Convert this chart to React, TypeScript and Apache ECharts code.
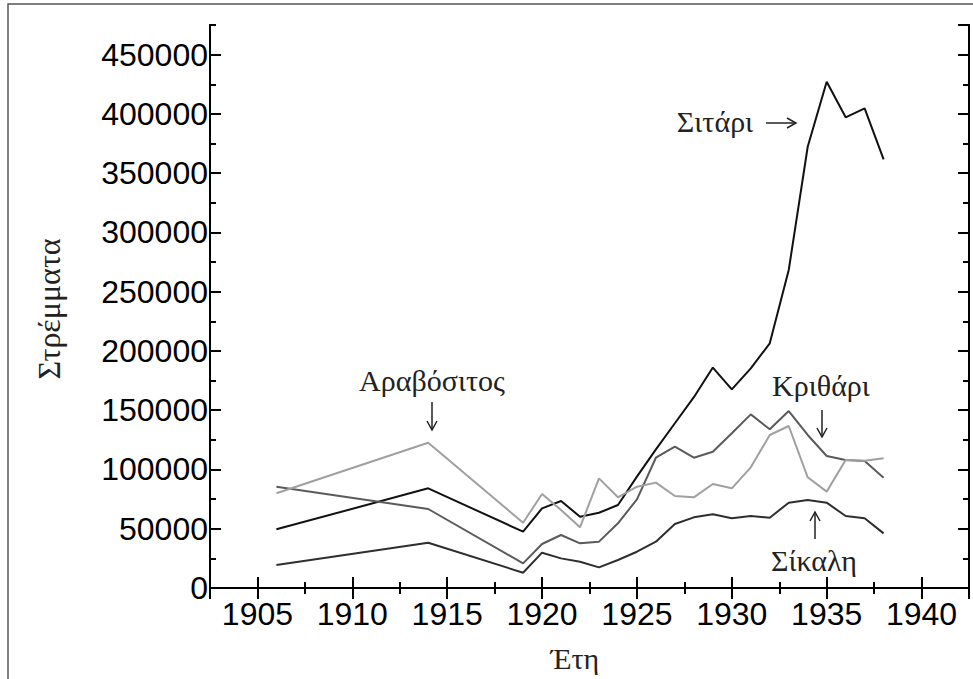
import React, { useEffect, useRef } from "react";
import * as echarts from "echarts";

const years = [1906, 1914, 1919, 1920, 1921, 1922, 1923, 1924, 1925, 1926, 1927, 1928, 1929, 1930, 1931, 1932, 1933, 1934, 1935, 1936, 1937, 1938];
const wheat = [49500, 84100, 47500, 67200, 73400, 60200, 63500, 70000, 94000, 117000, 139000, 161000, 186000, 167600, 185300, 206400, 268300, 372300, 427200, 397100, 404700, 361700];
const barley = [85500, 66650, 20800, 37100, 44700, 37700, 39100, 54600, 74800, 109900, 119200, 109900, 115000, 130500, 146500, 133900, 149300, 129100, 111400, 108000, 107100, 93100];
const maize = [79900, 122600, 55100, 79300, 65800, 51200, 92500, 76500, 85500, 88900, 77600, 76500, 87700, 84100, 101800, 129100, 136700, 93400, 81300, 108000, 107400, 109400];
const rye = [19400, 38200, 12900, 29800, 25000, 22200, 17400, 23600, 30600, 39100, 54000, 59600, 62200, 58800, 60700, 59300, 72000, 74200, 72000, 60700, 58800, 46100];

const seriesNames = ["Σιτάρι", "Κριθάρι", "Αραβόσιτος", "Σίκαλη"];
const yAxisTitle = "Στρέμματα";
const xAxisTitle = "Έτη";

const X_MIN = 1902.5;
const X_MAX = 1942.5;
const Y_MIN = 0;
const Y_MAX = 475000;

export default function App() {
  const ref = useRef<HTMLDivElement>(null);
  useEffect(() => {
    if (!ref.current) return;
    const chart = echarts.init(ref.current, null, { renderer: "svg" });
    const axisLine = { show: true, lineStyle: { color: "#000", width: 2 } };
    const labelFont = { fontFamily: "Liberation Sans", fontSize: 32, color: "#000" };
    const serif = "Liberation Serif";

    const mkX = (position: string, major: boolean, labels: boolean) => ({
      type: "value",
      position,
      min: X_MIN,
      max: X_MAX,
      ...(major ? { splitNumber: 8 } : { interval: 2.5 }),
      axisLine,
      splitLine: { show: false },
      axisTick: { show: true, inside: true, length: major ? 11 : 6, lineStyle: { color: "#000", width: 2 } },
      axisLabel: labels
        ? { show: true, margin: 10, showMinLabel: false, showMaxLabel: false, ...labelFont, formatter: (v: number) => (v % 5 === 0 ? String(v) : "") }
        : { show: false },
    });
    const mkY = (position: string, major: boolean, labels: boolean) => ({
      type: "value",
      position,
      min: Y_MIN,
      max: Y_MAX,
      interval: major ? 50000 : 25000,
      axisLine,
      splitLine: { show: false },
      axisTick: { show: true, inside: true, length: major ? 11 : 6, lineStyle: { color: "#000", width: 2 } },
      axisLabel: labels
        ? { show: true, margin: 2, padding: [0, 0, 5, 0], showMaxLabel: false, ...labelFont, formatter: (v: number) => (v % 50000 === 0 ? String(v) : "") }
        : { show: false },
    });

    const mkSeries = (name: string, vals: number[], color: string) => ({
      name,
      type: "line",
      xAxisIndex: 0,
      yAxisIndex: 0,
      data: years.map((y, i) => [y, vals[i]]),
      showSymbol: false,
      symbol: "none",
      lineStyle: { color, width: 2 },
      itemStyle: { color },
    });

    const arrowStyle = { stroke: "#222", lineWidth: 1.5, fill: "none" };
    const textStyle = (text: string, x: number, y: number, size = 30) => ({
      type: "text",
      x,
      y,
      style: { text, fontFamily: serif, fontSize: size, fill: "#222", textAlign: "center", textVerticalAlign: "middle" },
    });

    chart.setOption({
      animation: false,
      backgroundColor: "#fff",
      grid: { left: 210, right: 4, top: 25, bottom: 91, containLabel: false },
      xAxis: [mkX("bottom", true, true), mkX("bottom", false, false), mkX("top", true, false), mkX("top", false, false)],
      yAxis: [mkY("left", true, true), mkY("left", false, false), mkY("right", true, false), mkY("right", false, false)],
      series: [
        mkSeries(seriesNames[0], wheat, "#111"),
        mkSeries(seriesNames[1], barley, "#5a5a5a"),
        mkSeries(seriesNames[2], maize, "#a0a0a0"),
        mkSeries(seriesNames[3], rye, "#2e2e2e"),
      ],
      graphic: [
        { type: "rect", shape: { x: 8, y: 4, width: 1000, height: 700 }, style: { fill: "none", stroke: "#555", lineWidth: 1.5 }, silent: true },
        { type: "text", x: 49, y: 309, rotation: Math.PI / 2, style: { text: yAxisTitle, fontFamily: serif, fontSize: 32, fill: "#222", textAlign: "center", textVerticalAlign: "middle" } },
        textStyle(xAxisTitle, 575, 658, 30),
        textStyle(seriesNames[2], 432, 380),
        { type: "line", shape: { x1: 432, y1: 402, x2: 432, y2: 430 }, style: arrowStyle },
        { type: "polyline", shape: { points: [[427, 421], [432, 430], [437, 421]] }, style: arrowStyle },
        textStyle(seriesNames[0], 715, 121),
        { type: "line", shape: { x1: 766, y1: 123, x2: 796, y2: 123 }, style: arrowStyle },
        { type: "polyline", shape: { points: [[787, 118], [796, 123], [787, 128]] }, style: arrowStyle },
        textStyle(seriesNames[1], 821, 385),
        { type: "line", shape: { x1: 822, y1: 410, x2: 822, y2: 437 }, style: arrowStyle },
        { type: "polyline", shape: { points: [[817, 428], [822, 437], [827, 428]] }, style: arrowStyle },
        textStyle(seriesNames[3], 814, 560),
        { type: "line", shape: { x1: 815, y1: 512, x2: 815, y2: 539 }, style: arrowStyle },
        { type: "polyline", shape: { points: [[810, 521], [815, 512], [820, 521]] }, style: arrowStyle },
      ],
    });
    return () => chart.dispose();
  }, []);
  return <div ref={ref} style={{ position: "absolute", left: 0, top: 0, width: 973, height: 679 }} />;
}
